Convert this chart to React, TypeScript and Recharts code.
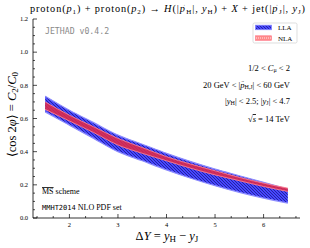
import React from 'react';
import { ComposedChart, Area, XAxis, YAxis } from 'recharts';

const dY = [1.5, 2, 2.5, 3, 3.5, 4, 4.5, 5, 5.5, 6, 6.5];
const llaHigh = [0.735, 0.65, 0.575, 0.5, 0.445, 0.39, 0.34, 0.295, 0.255, 0.215, 0.175];
const llaLow = [0.64, 0.56, 0.48, 0.4, 0.345, 0.29, 0.24, 0.195, 0.155, 0.12, 0.09];
const nlaHigh = [0.7, 0.62, 0.55, 0.48, 0.425, 0.37, 0.325, 0.285, 0.245, 0.21, 0.18];
const nlaLow = [0.655, 0.585, 0.515, 0.44, 0.39, 0.345, 0.3, 0.26, 0.225, 0.19, 0.16];

const xTicks = [1.3333, 1.6667, 2, 2.3333, 2.6667, 3, 3.3333, 3.6667, 4, 4.3333, 4.6667, 5, 5.3333, 5.6667, 6, 6.3333, 6.6667];
const yTicks = [0, 0.05, 0.1, 0.15, 0.2, 0.25, 0.3, 0.35, 0.4, 0.45, 0.5, 0.55, 0.6, 0.65, 0.7, 0.75, 0.8, 0.85, 0.9, 0.95, 1.0, 1.05, 1.1, 1.15, 1.2];

const data = dY.map((x, i) => ({ x, lla: [llaLow[i], llaHigh[i]], nla: [nlaLow[i], nlaHigh[i]] }));

const SERIF = '"Liberation Serif", "DejaVu Serif", serif';
const MONO = '"DejaVu Sans Mono", "Liberation Mono", monospace';

const isMajorX = (v: number) => Math.abs(v - Math.round(v)) < 1e-3;
const isMajorY = (v: number) => Math.abs(v * 5 - Math.round(v * 5)) < 1e-3;

const XTickBottom = (p: any) => {
  const v = p.payload.value;
  const major = isMajorX(v);
  return (
    <g>
      <line x1={p.x} x2={p.x} y1={p.y} y2={p.y - (major ? 4 : 2)} stroke="#000" strokeWidth={0.7} />
      {major && (
        <text x={p.x} y={p.y + 9} textAnchor="middle" fontSize={6.5} fontFamily={SERIF} fill="#000">
          {Math.round(v)}
        </text>
      )}
    </g>
  );
};
const XTickTop = (p: any) => {
  const v = p.payload.value;
  const major = isMajorX(v);
  return <line x1={p.x} x2={p.x} y1={p.y} y2={p.y + (major ? 4 : 2)} stroke="#000" strokeWidth={0.7} />;
};
const YTickLeft = (p: any) => {
  const v = p.payload.value;
  const major = isMajorY(v);
  return (
    <g>
      <line x1={p.x} x2={p.x + (major ? 4 : 2)} y1={p.y} y2={p.y} stroke="#000" strokeWidth={0.7} />
      {major && (
        <text x={p.x - 5} y={p.y + 2.2} textAnchor="end" fontSize={6.5} fontFamily={SERIF} fill="#000">
          {v.toFixed(1)}
        </text>
      )}
    </g>
  );
};
const YTickRight = (p: any) => {
  const v = p.payload.value;
  const major = isMajorY(v);
  return <line x1={p.x} x2={p.x - (major ? 4 : 2)} y1={p.y} y2={p.y} stroke="#000" strokeWidth={0.7} />;
};

const sub = (t: string, size = 7) => (
  <tspan baselineShift="-22%" fontSize={size}>{t}</tspan>
);

// italic p with a small arrow above it, followed by a subscript
const pvec = (subText: string, fs: number, subFs: number) => {
  const lift = fs * 0.62;
  return (
    <>
      <tspan fontStyle="italic">p</tspan>
      <tspan dx={-fs * 0.45} dy={-lift} fontSize={fs * 0.45}>→</tspan>
      <tspan dy={lift} dx={-fs * 0.02} baselineShift="-22%" fontSize={subFs}>{subText}</tspan>
    </>
  );
};

export default function App() {
  return (
    <div style={{ position: 'absolute', left: 0, top: 0, width: 310, height: 248, background: '#fff' }}>
      <svg width={0} height={0} style={{ position: 'absolute' }}>
        <defs>
          <pattern id="hatchBlue" patternUnits="userSpaceOnUse" width={3} height={3}>
            <rect width={3} height={3} fill="#4646ff" />
            <path d="M-1,-1 L4,4 M-1,2 L1,4 M2,-1 L4,1" stroke="#1c1c88" strokeWidth={0.8} />
          </pattern>
        </defs>
      </svg>
      <ComposedChart width={310} height={248} data={data} margin={{ top: 19, right: 10, bottom: 0, left: 0 }}>
        <XAxis
          dataKey="x"
          type="number"
          domain={[1.25, 6.75]}
          allowDataOverflow
          ticks={xTicks}
          interval={0}
          height={30}
          tickSize={0}
          tickMargin={0}
          tickLine={false}
          tick={<XTickBottom />}
          axisLine={{ stroke: '#000', strokeWidth: 0.8 }}
        />
        <XAxis
          xAxisId="t"
          orientation="top"
          dataKey="x"
          type="number"
          domain={[1.25, 6.75]}
          allowDataOverflow
          ticks={xTicks}
          interval={0}
          height={0}
          tickSize={0}
          tickMargin={0}
          tickLine={false}
          tick={<XTickTop />}
          axisLine={{ stroke: '#000', strokeWidth: 0.8 }}
        />
        <YAxis
          type="number"
          domain={[0, 1.2]}
          allowDataOverflow
          ticks={yTicks}
          interval={0}
          width={33}
          tickSize={0}
          tickMargin={0}
          tickLine={false}
          tick={<YTickLeft />}
          axisLine={{ stroke: '#000', strokeWidth: 0.8 }}
        />
        <YAxis
          yAxisId="r"
          orientation="right"
          type="number"
          domain={[0, 1.2]}
          allowDataOverflow
          ticks={yTicks}
          interval={0}
          width={0}
          tickSize={0}
          tickMargin={0}
          tickLine={false}
          tick={<YTickRight />}
          axisLine={{ stroke: '#000', strokeWidth: 0.8 }}
        />
        <Area
          dataKey="lla"
          type="monotone"
          fill="url(#hatchBlue)"
          fillOpacity={1}
          stroke="#8c8cff"
          strokeWidth={1.2}
          isAnimationActive={false}
          dot={false}
          activeDot={false}
        />
        <Area
          dataKey="nla"
          type="monotone"
          fill="#e62a44"
          fillOpacity={0.85}
          stroke="#ff7f8f"
          strokeWidth={0.9}
          isAnimationActive={false}
          dot={false}
          activeDot={false}
        />
      </ComposedChart>
      <svg width={310} height={248} style={{ position: 'absolute', left: 0, top: 0, pointerEvents: 'none' }}>
        <text x={30} y={12} fontSize={10.3} fontFamily={SERIF} fill="#000" textLength={275} lengthAdjust="spacing">
          proton(<tspan fontStyle="italic">p</tspan>{sub('1')}) + proton(<tspan fontStyle="italic">p</tspan>{sub('2')}) → <tspan fontStyle="italic">H</tspan>(|{pvec('H', 10.3, 7)}|, <tspan fontStyle="italic">y</tspan>{sub('H')}) + <tspan fontStyle="italic">X</tspan> + jet(|{pvec('J', 10.3, 7)}|, <tspan fontStyle="italic">y</tspan>{sub('J')})
        </text>
        <text x={45} y={34} fontSize={8.2} fontFamily={MONO} fill="#8a8a8a">JETHAD v0.4.2</text>

        <rect x={253} y={23} width={44} height={20} rx={1.5} fill="#fff" stroke="#d0d0d0" strokeWidth={0.7} />
        <rect x={255.5} y={25.2} width={16} height={4.5} fill="url(#hatchBlue)" stroke="#8585ff" strokeWidth={0.8} />
        <text x={278} y={30} fontSize={7} fontFamily={SERIF} fill="#000">LLA</text>
        <rect x={255.5} y={35.8} width={16} height={4.5} fill="#ff8a8a" stroke="#ff7080" strokeWidth={0.6} />
        <line x1={256} x2={271} y1={38} y2={38} stroke="#fff" strokeWidth={0.8} strokeDasharray="1 1" />
        <text x={278} y={40.6} fontSize={7} fontFamily={SERIF} fill="#000">NLA</text>

        <g fontFamily={SERIF} fontSize={8.5} fill="#000" textAnchor="end">
          <text x={290} y={71}>1/2 &lt; <tspan fontStyle="italic">C</tspan>{sub('μ', 6)} &lt; 2</text>
          <text x={290} y={87.5}>20 GeV &lt; |{pvec('H,J', 8.5, 6)}| &lt; 60 GeV</text>
          <text x={290} y={104}>|<tspan fontStyle="italic">y</tspan>{sub('H', 6)}| &lt; 2.5;  |<tspan fontStyle="italic">y</tspan>{sub('J', 6)}| &lt; 4.7</text>
          <text x={290} y={122}>√<tspan textDecoration="overline" fontStyle="italic">s</tspan> = 14 TeV</text>
        </g>

        <text x={42} y={194} fontSize={8} fontFamily={SERIF} fill="#000">
          <tspan textDecoration="overline">MS</tspan> scheme
        </text>
        <text x={42} y={210} fontSize={8} fontFamily={SERIF} fill="#000">
          <tspan fontFamily={MONO} fontSize={7}>MMHT2014</tspan> NLO PDF set
        </text>

        <text x={167} y={239.5} textAnchor="middle" fontSize={12.5} fontFamily={SERIF} fill="#000">
          Δ<tspan fontStyle="italic">Y</tspan> = <tspan fontStyle="italic">y</tspan>{sub('H', 9)} − <tspan fontStyle="italic">y</tspan>{sub('J', 9)}
        </text>

        <text
          transform="translate(16,114.5) rotate(-90)"
          textAnchor="middle"
          fontSize={12.5}
          fontFamily={SERIF}
          fill="#000"
        >
          ⟨cos 2<tspan fontStyle="italic">φ</tspan>⟩ = <tspan fontStyle="italic">C</tspan>{sub('2', 9)}/<tspan fontStyle="italic">C</tspan>{sub('0', 9)}
        </text>
      </svg>
    </div>
  );
}
